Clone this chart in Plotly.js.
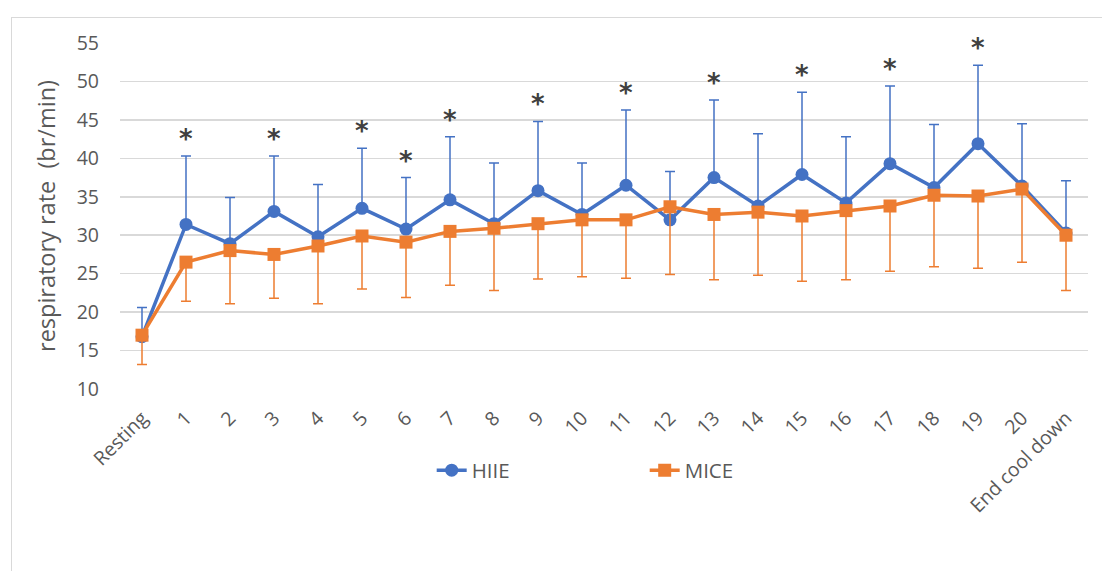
<!DOCTYPE html>
<html>
<head>
<meta charset="utf-8">
<script src="https://cdn.plot.ly/plotly-3.0.1.min.js"></script>
<style>
  html, body { margin: 0; padding: 0; background: #ffffff; overflow: hidden; }
  #frame { position: absolute; left: 11px; top: 17px; width: 1200px; height: 700px;
           border: 1.5px solid #d9d9d9; box-sizing: border-box; }
  #chart { position: absolute; left: 0; top: 0; width: 1102px; height: 571px; }
</style>
</head>
<body>
<div id="frame"></div>
<div id="chart"></div>
<script>
// Time points (minutes of exercise)
const categories = ['Resting', '1', '2', '3', '4', '5', '6', '7', '8', '9', '10',
  '11', '12', '13', '14', '15', '16', '17', '18', '19', '20', 'End cool down'];

// Respiratory rate, mean (br/min)
const hiieMean = [16.8, 31.4, 28.9, 33.1, 29.8, 33.5, 30.8, 34.6, 31.5, 35.8, 32.7,
  36.5, 32.0, 37.5, 33.8, 37.9, 34.2, 39.3, 36.2, 41.9, 36.4, 30.3];
const miceMean = [17.0, 26.5, 28.0, 27.5, 28.6, 29.9, 29.1, 30.5, 30.9, 31.5, 32.0,
  32.0, 33.7, 32.7, 33.0, 32.5, 33.2, 33.8, 35.2, 35.1, 36.0, 30.0];

// Standard deviations (HIIE shown upward, MICE shown downward)
const hiieSD = [3.8, 8.9, 6.0, 7.2, 6.8, 7.8, 6.7, 8.2, 7.9, 9.0, 6.7,
  9.8, 6.3, 10.1, 9.4, 10.7, 8.6, 10.1, 8.2, 10.2, 8.1, 6.8];
const miceSD = [3.8, 5.1, 6.9, 5.7, 7.5, 6.9, 7.2, 7.0, 8.1, 7.2, 7.4,
  7.6, 8.8, 8.5, 8.2, 8.5, 9.0, 8.5, 9.3, 9.4, 9.5, 7.2];

// Time points with a significant HIIE vs MICE difference
const significant = [false, true, false, true, false, true, true, true, false, true, false,
  true, false, true, false, true, false, true, false, true, false, false];

const yTicks = [10, 15, 20, 25, 30, 35, 40, 45, 50, 55];

const zeros = categories.map(() => 0);
const textGrey = '#595959';
const font = 'Open Sans, Segoe UI, sans-serif';

const hiie = {
  type: 'scatter', mode: 'lines+markers', name: 'HIIE',
  x: categories, y: hiieMean,
  line: { color: '#4472C4', width: 3.5 },
  marker: { symbol: 'circle', size: 13, color: '#4472C4' },
  error_y: { type: 'data', symmetric: false, array: hiieSD, arrayminus: zeros,
             color: '#4472C4', thickness: 1.5, width: 5 }
};

const mice = {
  type: 'scatter', mode: 'lines+markers', name: 'MICE',
  x: categories, y: miceMean,
  line: { color: '#ED7D31', width: 3.5 },
  marker: { symbol: 'square', size: 13, color: '#ED7D31' },
  error_y: { type: 'data', symmetric: false, array: zeros, arrayminus: miceSD,
             color: '#ED7D31', thickness: 1.5, width: 5 }
};

// Asterisks placed just above the HIIE upper error bar
const stars = [];
categories.forEach((c, i) => {
  if (significant[i]) {
    stars.push({
      x: c, y: hiieMean[i] + hiieSD[i], xref: 'x', yref: 'y',
      text: '*', showarrow: false, yanchor: 'middle', yshift: 17,
      font: { family: 'DejaVu Sans, sans-serif', size: 26, color: '#404040', weight: 'bold' }
    });
  }
});

const layout = {
  width: 1102, height: 571,
  margin: { l: 120, r: 14, t: 43, b: 182 },
  paper_bgcolor: 'rgba(0,0,0,0)',
  plot_bgcolor: 'rgba(0,0,0,0)',
  showlegend: true,
  legend: {
    orientation: 'h', x: 0.322, xanchor: 'left', y: -0.235, yanchor: 'middle',
    font: { family: font, size: 20.5, color: textGrey },
    entrywidth: 168, entrywidthmode: 'pixels', bgcolor: 'rgba(0,0,0,0)'
  },
  xaxis: {
    type: 'category', range: [-0.5, categories.length - 0.5], autorange: false,
    tickangle: -45, showgrid: false, zeroline: false,
    showline: false, ticks: 'outside', ticklen: 9, tickcolor: 'rgba(0,0,0,0)', automargin: false,
    tickfont: { family: font, size: 19.5, color: textGrey }
  },
  yaxis: {
    range: [10, 55], autorange: false, tickvals: yTicks, ticks: '', showline: false, zeroline: false,
    gridcolor: '#d9d9d9', gridwidth: 1.5, automargin: false, ticklabelstandoff: 20,
    tickfont: { family: font, size: 19.5, color: textGrey },
    title: { text: 'respiratory rate  (br/min)', standoff: 14,
             font: { family: font, size: 23.5, color: textGrey } }
  },
  annotations: stars
};

Plotly.newPlot('chart', [hiie, mice], layout, { displayModeBar: false, staticPlot: true });
</script>
</body>
</html>
